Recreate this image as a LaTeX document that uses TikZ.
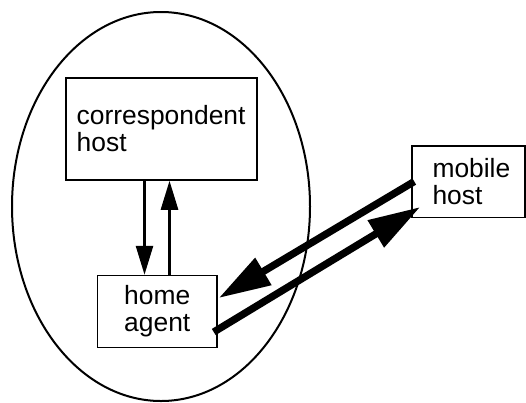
\documentclass[tikz,border=0pt]{standalone}
\usepackage{fontspec}
\setmainfont{Liberation Sans}
\usetikzlibrary{arrows.meta, positioning, calc}

\begin{document}
\begin{tikzpicture}[x=1pt, y=-1pt,
  hostbox/.style={draw, line width=1.5pt, font=\fontsize{26.4}{27}\selectfont, inner sep=0pt},
  wire/.style={line width=2.7pt, -{Triangle[length=29pt, width=17pt]}},
  tunnel/.style={line width=7.3pt, -{Triangle[length=52pt, width=30pt]}}]
  \useasboundingbox (0,0) rectangle (526,402);

  % home network
  \draw[line width=2pt] (161,206.5) ellipse [x radius=149, y radius=194.5];

  % hosts
  \node[hostbox, minimum width=191, minimum height=102, text width=169.6, inner xsep=10.7, align=left] (ch) at (161.5,129) {correspondent\\host};
  \node[hostbox, minimum width=119.5, minimum height=72, align=center] (ha) at (157.25,311.5) {home\\agent};
  \node[hostbox, minimum width=113, minimum height=71.5, text width=72, inner xsep=20.5, align=left] (mh) at (468.5,181.5) {mobile\\host};

  % inside the home network
  \draw[wire] ([xshift=-17]ch.south) -- ([xshift=-17]ch.south |- ha.north);
  \draw[wire] ([xshift=8]ch.south |- ha.north) -- ([xshift=8]ch.south);

  % to and from the mobile host
  \draw[tunnel] ([shift={(3,0)}]mh.west) -- ([shift={(1,-13.5)}]ha.east);
  \draw[tunnel] ([shift={(-4,20.5)}]ha.east) -- ([shift={(9,25.5)}]mh.west);
\end{tikzpicture}
\end{document}
